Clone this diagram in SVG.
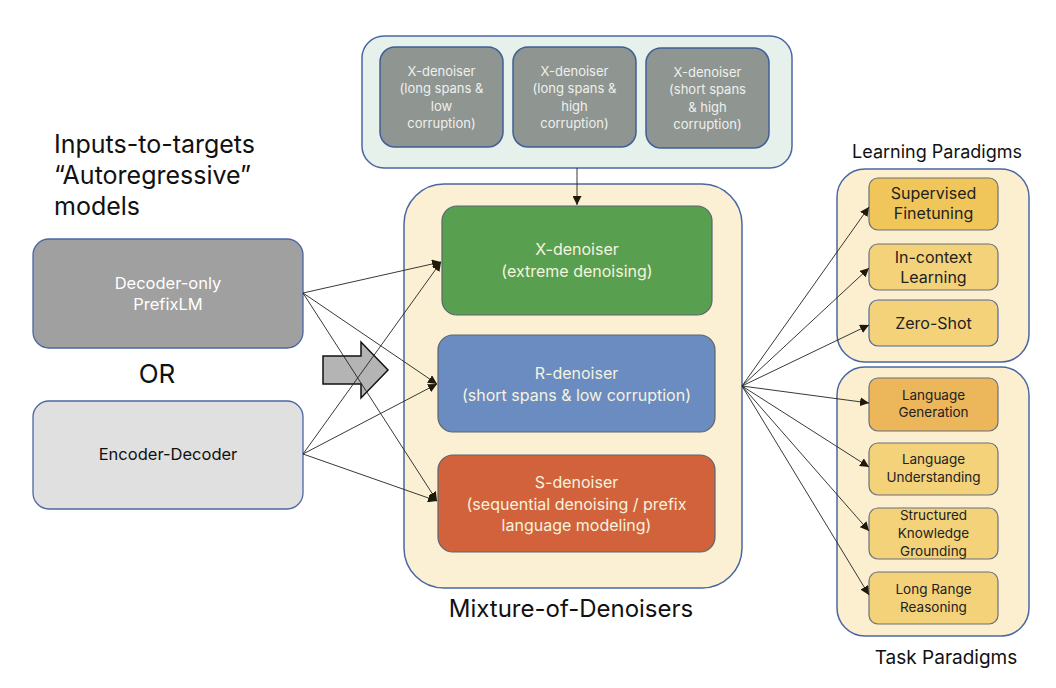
<svg xmlns="http://www.w3.org/2000/svg" width="1056" height="688" viewBox="0 0 1056 688">
<defs>
<marker id="ah" viewBox="0 0 10 10" refX="10" refY="5" markerWidth="9" markerHeight="9" markerUnits="userSpaceOnUse" orient="auto">
<path d="M0,0 L10,5 L0,10 z" fill="#1e1a0a"/>
</marker>
<style>
text{font-family:Inter,"Open Sans","Liberation Sans",sans-serif;text-anchor:middle}
.cont{stroke:#4a67a3;stroke-width:1.5}
.gb{fill:#8f9691;stroke:#3f5f97;stroke-width:1.5}
.gt{fill:#eef0ee;font-size:13px}
.den{stroke:#5a6470;stroke-width:1.2}
.dt{fill:#f6f3df;font-size:16px}
.yb{stroke:#6b6f7c;stroke-width:1.2}
.yt{fill:#222;font-size:16px}
.tt{fill:#222;font-size:13.5px}
.lbl{fill:#111}
.ln{stroke:#222;stroke-width:0.9;fill:none;marker-end:url(#ah)}
</style>
</defs>
<rect width="1056" height="688" fill="#ffffff"/>

<g id="xvariants">
<rect x="362" y="36" width="430" height="132" rx="22" fill="#e7f1ec" class="cont"/>
<rect x="380" y="47" width="123" height="100" rx="15" class="gb"/>
<text class="gt"><tspan x="441.5" y="76">X-denoiser</tspan><tspan x="441.5" y="93">(long spans &amp;</tspan><tspan x="441.5" y="111">low</tspan><tspan x="441.5" y="128">corruption)</tspan></text>
<rect x="513" y="47" width="123" height="100" rx="15" class="gb"/>
<text class="gt"><tspan x="574.5" y="76">X-denoiser</tspan><tspan x="574.5" y="93">(long spans &amp;</tspan><tspan x="574.5" y="111">high</tspan><tspan x="574.5" y="128">corruption)</tspan></text>
<rect x="646" y="48" width="123" height="100" rx="15" class="gb"/>
<text class="gt"><tspan x="707.5" y="77">X-denoiser</tspan><tspan x="707.5" y="94">(short spans</tspan><tspan x="707.5" y="112">&amp; high</tspan><tspan x="707.5" y="129">corruption)</tspan></text>
</g>

<g id="mixture">
<rect x="404" y="184" width="338" height="404" rx="40" fill="#fbf0d3" class="cont"/>
<text x="571" y="617" class="lbl" style="font-size:24px">Mixture-of-Denoisers</text>
</g>

<g id="xden">
<rect x="442" y="206" width="270" height="109" rx="15" fill="#58a050" class="den"/>
<text class="dt"><tspan x="577" y="255">X-denoiser</tspan><tspan x="577" y="277">(extreme denoising)</tspan></text>
</g>
<g id="rden">
<rect x="438" y="335" width="277" height="97" rx="15" fill="#6a8cc1" class="den"/>
<text class="dt"><tspan x="576.5" y="379">R-denoiser</tspan><tspan x="576.5" y="401">(short spans &amp; low corruption)</tspan></text>
</g>
<g id="sden">
<rect x="438" y="455" width="277" height="97" rx="15" fill="#d2623b" class="den"/>
<text class="dt"><tspan x="576.5" y="488">S-denoiser</tspan><tspan x="576.5" y="510">(sequential denoising / prefix</tspan><tspan x="576.5" y="531">language modeling)</tspan></text>
</g>

<g id="inputs-label">
<text class="lbl" style="font-size:25px;text-anchor:start"><tspan x="54" y="153">Inputs-to-targets</tspan><tspan x="54" y="184">“Autoregressive”</tspan><tspan x="54" y="215">models</tspan></text>
</g>

<g id="decoder">
<rect x="33" y="239" width="270" height="109" rx="16" fill="#a0a0a0" stroke="#4a67a3" stroke-width="1.3"/>
<text style="font-size:16.5px;fill:#ffffff"><tspan x="168" y="289">Decoder-only</tspan><tspan x="168" y="310">PrefixLM</tspan></text>
</g>
<g id="or">
<text x="157" y="383" class="lbl" style="font-size:26px">OR</text>
</g>
<g id="encdec">
<rect x="33" y="401" width="270" height="108" rx="16" fill="#e0e0e0" stroke="#4a67a3" stroke-width="1.3"/>
<text x="168" y="460" style="font-size:16.5px;fill:#111">Encoder-Decoder</text>
</g>

<g id="bigarrow">
<path d="M323,356 L361,356 L361,342 L388,370 L361,398 L361,384 L323,384 Z" fill="#b4b4b4" stroke="#111" stroke-width="1.5" stroke-linejoin="miter"/>
</g>

<g id="learning">
<text x="937" y="158" class="lbl" style="font-size:18px">Learning Paradigms</text>
<rect x="837" y="169" width="192" height="193" rx="28" fill="#fbefd0" class="cont"/>
<rect x="869" y="178" width="129" height="52" rx="9" fill="#f0c65a" class="yb"/>
<text class="yt"><tspan x="933.5" y="199">Supervised</tspan><tspan x="933.5" y="219">Finetuning</tspan></text>
<rect x="869" y="244" width="129" height="46" rx="9" fill="#f3d27a" class="yb"/>
<text class="yt"><tspan x="933.5" y="263">In-context</tspan><tspan x="933.5" y="283">Learning</tspan></text>
<rect x="869" y="300" width="129" height="46" rx="9" fill="#f3d27a" stroke="#4a67a3" stroke-width="1.2"/>
<text x="933.5" y="329" class="yt">Zero-Shot</text>
</g>

<g id="task">
<rect x="837" y="367" width="192" height="269" rx="28" fill="#fbefd0" class="cont"/>
<rect x="869" y="378" width="129" height="53" rx="9" fill="#ecb65a" class="yb"/>
<text class="tt"><tspan x="933.5" y="400">Language</tspan><tspan x="933.5" y="417">Generation</tspan></text>
<rect x="869" y="443" width="129" height="52" rx="9" fill="#f3d27a" class="yb"/>
<text class="tt"><tspan x="933.5" y="464">Language</tspan><tspan x="933.5" y="482">Understanding</tspan></text>
<rect x="869" y="508" width="129" height="51" rx="9" fill="#f3d27a" class="yb"/>
<text class="tt"><tspan x="933.5" y="520">Structured</tspan><tspan x="933.5" y="538">Knowledge</tspan><tspan x="933.5" y="556">Grounding</tspan></text>
<rect x="869" y="572" width="129" height="52" rx="9" fill="#f3d27a" class="yb"/>
<text class="tt"><tspan x="933.5" y="594">Long Range</tspan><tspan x="933.5" y="612">Reasoning</tspan></text>
<text x="946" y="664" class="lbl" style="font-size:19px">Task Paradigms</text>
</g>

<g id="connectors">
<line x1="577" y1="168" x2="577" y2="205" class="ln"/>
<line x1="303" y1="293" x2="441" y2="262" class="ln"/>
<line x1="303" y1="293" x2="437" y2="384" class="ln"/>
<line x1="303" y1="293" x2="437" y2="501" class="ln"/>
<line x1="303" y1="454" x2="441" y2="262" class="ln"/>
<line x1="303" y1="454" x2="437" y2="384" class="ln"/>
<line x1="303" y1="454" x2="437" y2="501" class="ln"/>
<line x1="742" y1="386" x2="869" y2="207" class="ln"/>
<line x1="742" y1="386" x2="869" y2="268" class="ln"/>
<line x1="742" y1="386" x2="869" y2="325" class="ln"/>
<line x1="742" y1="386" x2="869" y2="403" class="ln"/>
<line x1="742" y1="386" x2="869" y2="467" class="ln"/>
<line x1="742" y1="386" x2="869" y2="531" class="ln"/>
<line x1="742" y1="386" x2="869" y2="595" class="ln"/>
</g>
</svg>
